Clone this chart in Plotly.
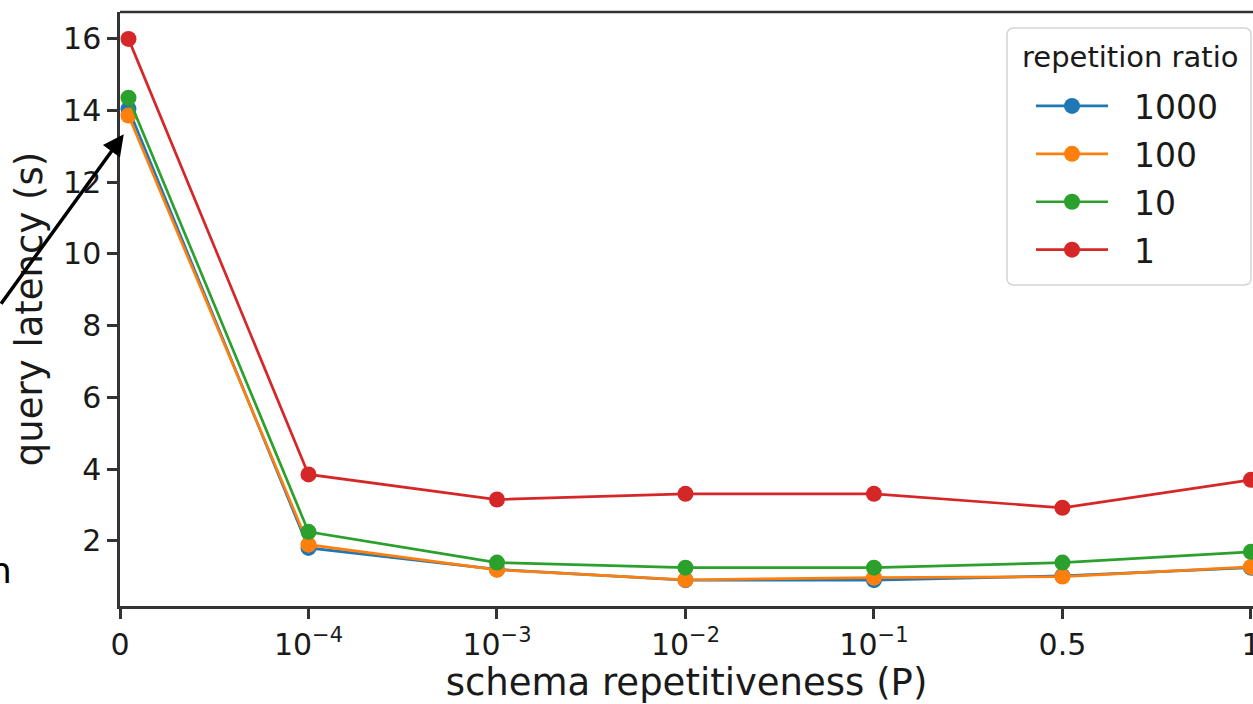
import plotly.graph_objects as go

# ---- data ----
x_labels = ["0", "10<sup>\u22124</sup>", "10<sup>\u22123</sup>", "10<sup>\u22122</sup>",
            "10<sup>\u22121</sup>", "0.5", "1"]
tick_pos = [0, 1, 2, 3, 4, 5, 6]
x_vals = [0.045, 1, 2, 3, 4, 5, 6]

series_names = ["1000", "100", "10", "1"]
lat_1000 = [14.05, 1.80, 1.20, 0.90, 0.90, 1.02, 1.25]
lat_100 = [13.86, 1.89, 1.19, 0.91, 0.97, 1.00, 1.27]
lat_10 = [14.36, 2.25, 1.39, 1.25, 1.25, 1.39, 1.69]
lat_1 = [16.00, 3.85, 3.15, 3.31, 3.31, 2.92, 3.70]
series_vals = [lat_1000, lat_100, lat_10, lat_1]
colors = ["#1f77b4", "#ff7f0e", "#2ca02c", "#d62728"]

FONT = "DejaVu Sans"
TXT = "#1a1a1a"
SPINE = "#333333"

# plot-area geometry in pixels
L, T, W, H = 120, 12, 1133, 594


def px(xp):
    return (xp - L) / W


def py(yp):
    return (T + H - yp) / H


fig = go.Figure()
for name, vals, c in zip(series_names, series_vals, colors):
    fig.add_trace(go.Scatter(
        x=x_vals, y=vals, name="\u00a0\u00a0" + name, mode="lines+markers",
        line=dict(color=c, width=2.7),
        marker=dict(color=c, size=16),
        legendgroup=name,
    ))

fig.update_layout(
    width=1253, height=704,
    margin=dict(l=L, r=1253 - L - W, t=T, b=704 - T - H, autoexpand=False),
    paper_bgcolor="white", plot_bgcolor="white",
    font=dict(family=FONT, color=TXT, size=30),
    showlegend=True,
    legend=dict(
        x=px(1031), xanchor="left", y=py(78), yanchor="top",
        bgcolor="rgba(0,0,0,0)", borderwidth=0,
        font=dict(family=FONT, size=33, color=TXT),
        traceorder="grouped", tracegroupgap=2,
        itemwidth=72,
    ),
    xaxis=dict(
        range=[0, 6.011], tickmode="array", tickvals=tick_pos, ticktext=x_labels,
        showline=True, linecolor=SPINE, linewidth=2.5, mirror=False,
        ticks="outside", ticklen=10, tickwidth=2.5, tickcolor=SPINE,
        showgrid=False, zeroline=False, ticklabeloverflow="allow",
        automargin=False,
        tickfont=dict(family=FONT, size=30, color=TXT),
        title=dict(text="schema repetitiveness (P)", font=dict(family=FONT, size=37, color=TXT), standoff=8),
    ),
    yaxis=dict(
        range=[0.18, 16.75], tickmode="array", tickvals=[2, 4, 6, 8, 10, 12, 14, 16],
        showline=True, linecolor=SPINE, linewidth=2.5, mirror=False,
        ticks="outside", ticklen=10, tickwidth=2.5, tickcolor=SPINE,
        showgrid=False, zeroline=False, automargin=False,
        tickfont=dict(family=FONT, size=30, color=TXT),
        title=dict(text="query latency (s)", font=dict(family=FONT, size=37, color=TXT), standoff=10),
    ),
)

# top spine
fig.add_shape(type="line", xref="paper", yref="paper", x0=0, x1=1, y0=1, y1=1,
              line=dict(color=SPINE, width=2.5))

# legend frame (rounded rectangle)
x0, x1, y0, y1, r = 1007, 1251, 28, 285, 7
path = (
    f"M {px(x0 + r)} {py(y0)} L {px(x1 - r)} {py(y0)} Q {px(x1)} {py(y0)} {px(x1)} {py(y0 + r)} "
    f"L {px(x1)} {py(y1 - r)} Q {px(x1)} {py(y1)} {px(x1 - r)} {py(y1)} "
    f"L {px(x0 + r)} {py(y1)} Q {px(x0)} {py(y1)} {px(x0)} {py(y1 - r)} "
    f"L {px(x0)} {py(y0 + r)} Q {px(x0)} {py(y0)} {px(x0 + r)} {py(y0)} Z"
)
fig.add_shape(type="path", xref="paper", yref="paper", path=path, layer="above",
              fillcolor="rgba(255,255,255,0.85)", line=dict(color="#d4d4d4", width=1.5))

# legend title
fig.add_annotation(x=px(1130), y=py(57), xref="paper", yref="paper",
                   text="repetition ratio", showarrow=False,
                   xanchor="center", yanchor="middle",
                   font=dict(family=FONT, size=29, color=TXT))

# arrow pointing at the first point
fig.add_annotation(x=0.02, y=13.34, xref="x", yref="y", ax=-134, ay=171,
                   text="", showarrow=True, arrowhead=2, arrowsize=1.2,
                   arrowwidth=3.5, arrowcolor="black")

# partially visible text at left edge
fig.add_annotation(x=px(0), y=py(570), xref="paper", yref="paper",
                   text="n", showarrow=False, xanchor="center", yanchor="middle",
                   font=dict(family=FONT, size=36, color="black"))

fig.write_html("out.html")
